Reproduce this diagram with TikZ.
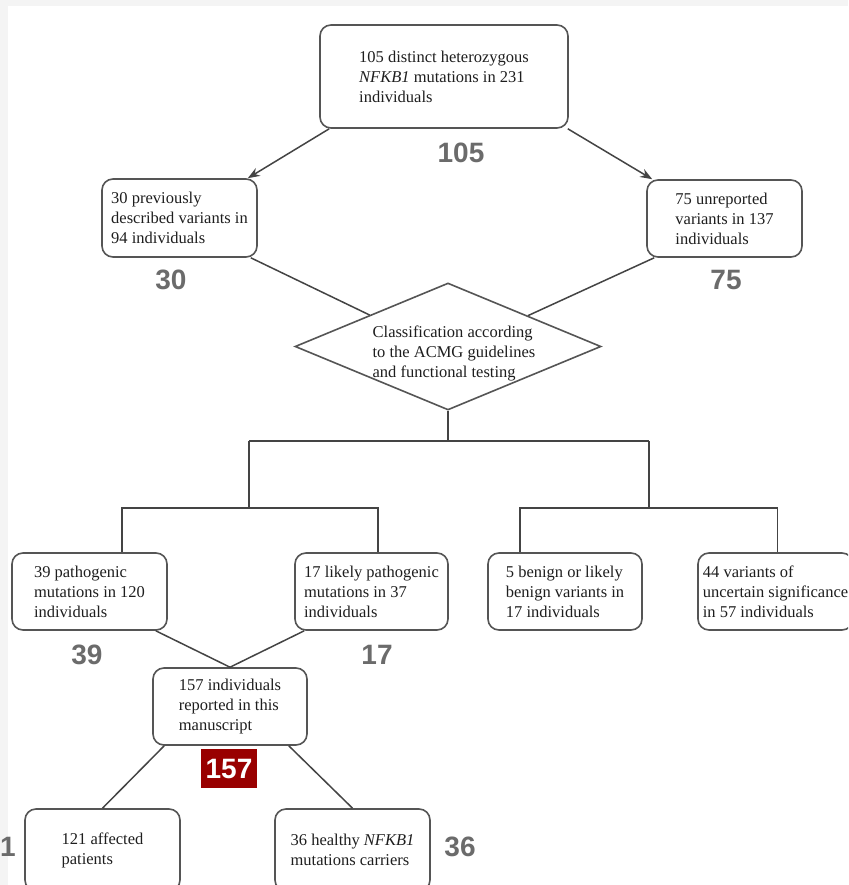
\documentclass[tikz,border=0pt]{standalone}
\usepackage{fontspec}
\setmainfont{Liberation Serif}
\newfontfamily\numfont{Liberation Sans}
\usetikzlibrary{shapes.geometric,arrows.meta,calc}
\definecolor{edgec}{HTML}{555555}
\definecolor{linec}{HTML}{444444}
\definecolor{numc}{HTML}{6B6B6B}
\definecolor{redc}{HTML}{990000}
\definecolor{stripc}{HTML}{F4F4F4}
\definecolor{txtc}{HTML}{1E1E1E}
\begin{document}
\begin{tikzpicture}[x=1pt,y=-1pt,
  box/.style={draw=edgec, line width=1.6pt, rounded corners=11pt, align=left,
    font=\fontsize{16.5}{20}\selectfont, text=txtc, inner sep=0pt, fill=white},
  conn/.style={draw=linec, line width=1.5pt},
  arr/.style={conn, -{Stealth[length=12pt,width=9pt]}},
  bignum/.style={font=\numfont\bfseries\fontsize{28}{30}\selectfont, text=numc, inner sep=0pt},
]
\useasboundingbox (0,0) rectangle (848,885);
\clip (0,0) rectangle (848,885);
\fill[white] (0,0) rectangle (848,885);
\fill[stripc] (0,0) rectangle (848,6);
\fill[stripc] (0,0) rectangle (8,885);

% boxes
\node[box, minimum width=248pt, minimum height=103pt] (T) at (444,76.5)
  {105 distinct heterozygous\\\textit{NFKB1} mutations in 231\\individuals};
\node[box, minimum width=155pt, minimum height=78pt] (L) at (179.5,218)
  {30 previously\\described variants in\\94 individuals};
\node[box, minimum width=155pt, minimum height=77pt] (R) at (724.5,218.5)
  {75 unreported\\variants in 137\\individuals};
\node[diamond, draw=edgec, line width=1.6pt, fill=white, aspect=2.41,
  minimum width=306pt, minimum height=127pt, inner sep=0pt] (D) at (448,346.5) {};
\node[align=left, font=\fontsize{16.5}{20}\selectfont, text=txtc, inner sep=0pt] (Dt) at (454,353)
  {Classification according\\to the ACMG guidelines\\and functional testing};
\node[box, minimum width=155pt, minimum height=77pt] (P39) at (89.5,591.5)
  {39 pathogenic\\mutations in 120\\individuals};
\node[box, minimum width=153pt, minimum height=77pt] (P17) at (371.5,591.5)
  {17 likely pathogenic\\mutations in 37\\individuals};
\node[box, minimum width=154pt, minimum height=77pt] (B5) at (565,591.5)
  {5 benign or likely\\benign variants in\\17 individuals};
\node[box, minimum width=155pt, minimum height=77pt] (V44) at (775.5,591.5)
  {44 variants of\\uncertain significance\\in 57 individuals};
\node[box, minimum width=154pt, minimum height=77pt] (M) at (230,706.5)
  {157 individuals\\reported in this\\manuscript};
\node[box, minimum width=155pt, minimum height=82pt] (A) at (102.5,850)
  {121 affected\\patients};
\node[box, minimum width=155pt, minimum height=82pt] (H) at (352.5,850)
  {36 healthy \textit{NFKB1}\\mutations carriers};

% connectors
\draw[arr] ([xshift=10pt]T.south west) -- ([xshift=-10pt]L.north east);
\draw[arr] ([xshift=-1pt]T.south east) -- ([xshift=6pt]R.north west);
\draw[conn] ([xshift=-7pt]L.south east) -- ($(D.west)!0.49!(D.north)$);
\draw[conn] ([xshift=8pt]R.south west) -- ($(D.north)!0.52!(D.east)$);

\coordinate (ha) at (249,441);
\coordinate (hb) at (649,441);
\coordinate (la) at (249,508);
\coordinate (rb) at (649,508);
\draw[conn] (D.south) -- (D.south |- ha);
\draw[conn] (ha) -- (hb);
\draw[conn] (ha) -- (la);
\draw[conn] (hb) -- (rb);
\draw[conn] (la) -| ([xshift=32.5pt]P39.north);
\draw[conn] (la) -| ([xshift=6.5pt]P17.north);
\draw[conn] (rb) -| ([xshift=-45pt]B5.north);
\draw[conn] (rb) -| ([xshift=2pt]V44.north);

\draw[conn] ([xshift=-12pt]P39.south east) -- (M.north);
\draw[conn] ([xshift=10pt]P17.south west) -- (M.north);
\draw[conn] ([xshift=12pt]M.south west) -- (A.north);
\draw[conn] ([xshift=-19pt]M.south east) -- (H.north);

% big numbers
\node[bignum] (n105) at (461,153) {105};
\node[bignum] (n30) at (171,280) {30};
\node[bignum] (n75) at (726,280) {75};
\node[bignum] (n39) at (87,655) {39};
\node[bignum] (n17) at (377,655) {17};
\node[bignum] (n36) at (460,847) {36};
\node[bignum, anchor=west] (n121) at (0,847) {1};
\node[fill=redc, minimum width=56pt, minimum height=39pt, inner sep=0pt, text=white,
  font=\numfont\bfseries\fontsize{28}{30}\selectfont] (n157) at (229,768.5) {157};
\end{tikzpicture}
\end{document}
